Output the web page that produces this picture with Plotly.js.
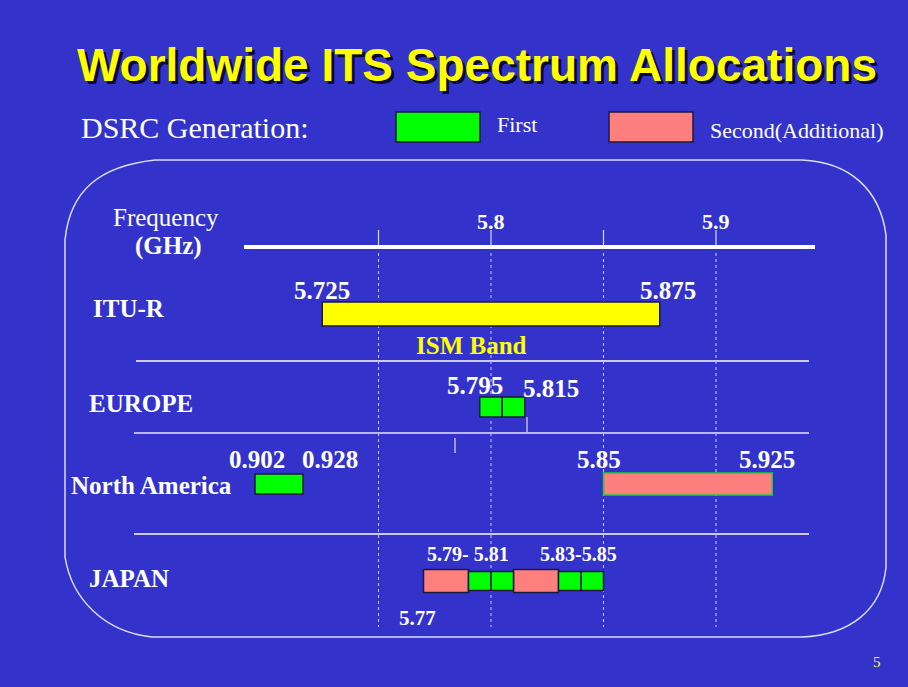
<!DOCTYPE html>
<html>
<head>
<meta charset="utf-8">
<script src="https://cdn.plot.ly/plotly-3.0.1.min.js"></script>
<style>html,body{margin:0;padding:0;background:#3333cc;}#chart{width:908px;height:687px;}</style>
</head>
<body>
<div id="chart"></div>
<script>
// ---------------- DATA ----------------
const regions = ['ITU-R', 'EUROPE', 'North America', 'JAPAN'];

// ISM band (ITU-R)
const ismRegion = ['ITU-R'];
const ismStart = [5.725];
const ismEnd = [5.875];

// First generation DSRC (GHz, 5.8 GHz band)
const firstRegion = ['EUROPE', 'EUROPE', 'JAPAN', 'JAPAN', 'JAPAN', 'JAPAN'];
const firstStart = [5.795, 5.805, 5.79, 5.80, 5.83, 5.84];
const firstEnd   = [5.805, 5.815, 5.80, 5.81, 5.84, 5.85];

// Second (additional) generation DSRC
const secondRegion = ['North America', 'JAPAN', 'JAPAN'];
const secondStart = [5.85, 5.77, 5.81];
const secondEnd   = [5.925, 5.79, 5.83];

// North America 900 MHz band (first generation)
const naLowRegion = ['North America'];
const naLowStart = [0.902];
const naLowEnd = [0.928];

// Frequency axis ticks (GHz)
const axisTickLabels = ['5.8', '5.9'];
const axisTickVals = [5.8, 5.9];
const gridVals = [5.75, 5.8, 5.85, 5.9];

// Value labels
const labelText = ['5.725', '5.875', '5.795', '5.815', '5.85', '5.925', '5.79- 5.81', '5.83-5.85', '5.77'];
const labelVal  = [5.725, 5.875, 5.795, 5.815, 5.85, 5.925, 5.80, 5.84, 5.77];
const labelRow  = ['ITU-R', 'ITU-R', 'EUROPE', 'EUROPE', 'North America', 'North America', 'JAPAN', 'JAPAN', 'JAPAN'];
const naLowLabelText = ['0.902', '0.928'];
const naLowLabelVal = [0.902, 0.928];

// ---------------- LAYOUT CONFIG ----------------
const W = 908, H = 687;
const rowY = {'ITU-R': 314, 'EUROPE': 407, 'North America': 484, 'JAPAN': 581};
// GHz scale: pixel = 491 + (f-5.8)*2250
const ghzRange = [5.8 - 491 / 2250, 5.8 + (W - 491) / 2250];
// 900 MHz scale
const lowPxPerGHz = 48 / 0.026;
const lowRange = [0.900, 0.930];
const lowDomain = [(255 + (lowRange[0] - 0.902) * lowPxPerGHz) / W, (255 + (lowRange[1] - 0.902) * lowPxPerGHz) / W];

const SERIF = 'Liberation Serif, Times New Roman, serif';
const SANS = 'Liberation Sans, Arial, sans-serif';
const GREEN = '#00ff00', PINK = '#ff7f7f', YELLOW = '#ffff00', EDGE = '#1a1a40';

function thick(region, kind) {
  if (kind === 'ism') return 24;
  if (kind === 'first') return region === 'JAPAN' ? 19 : 20;
  if (kind === 'second') return region === 'JAPAN' ? 23 : 22;
  return 20;
}

function barTrace(reg, st, en, color, kind, xaxis, lineColors) {
  return {
    type: 'bar', orientation: 'h',
    y: reg.map(r => rowY[r]),
    base: st,
    x: st.map((s, i) => en[i] - s),
    width: reg.map(r => thick(r, kind)),
    xaxis: xaxis, yaxis: 'y',
    marker: {color: color, line: {color: lineColors || EDGE, width: 1.5}},
    hoverinfo: 'skip', showlegend: false
  };
}

const traces = [
  barTrace(ismRegion, ismStart, ismEnd, YELLOW, 'ism', 'x'),
  barTrace(secondRegion, secondStart, secondEnd, PINK, 'second', 'x',
           secondRegion.map(r => r === 'North America' ? '#22cc33' : EDGE)),
  barTrace(firstRegion, firstStart, firstEnd, GREEN, 'first', 'x'),
  barTrace(naLowRegion, naLowStart, naLowEnd, GREEN, 'first', 'x2')
];

// ---------------- SHAPES ----------------
const shapes = [];
function pxLine(x0, y0, x1, y1, color, width, dash) {
  shapes.push({type: 'line', xref: 'x3', yref: 'y', x0: x0, y0: y0, x1: x1, y1: y1,
               line: {color: color, width: width, dash: dash || 'solid'}, layer: 'below'});
}
// rounded frame
shapes.push({type: 'path', xref: 'x3', yref: 'y', layer: 'below',
  path: 'M 155,160 L 802,160 C 850,162 880,190 886,235 L 886,567 C 882,610 850,635 802,637 ' +
        'L 152,637 C 105,632 72,600 65,557 L 65,240 C 70,190 100,166 155,160 Z',
  line: {color: '#dcdcff', width: 1.5}, fillcolor: 'rgba(0,0,0,0)'});
// separators
pxLine(136, 361, 809, 361, '#ffffff', 1.5);
pxLine(134, 433, 809, 433, '#b8b8f0', 2);
pxLine(134, 534, 809, 534, '#ffffff', 1.5);
// dotted grid on GHz scale
gridVals.forEach(v => shapes.push({type: 'line', xref: 'x', yref: 'y', x0: v, x1: v, y0: 253, y1: 627,
  line: {color: '#c8c8ff', width: 1, dash: 'dot'}, layer: 'below'}));
// frequency axis line
pxLine(244, 247, 815, 247, '#ffffff', 4);
// axis tick marks
gridVals.forEach(v => shapes.push({type: 'line', xref: 'x', yref: 'y', x0: v, x1: v, y0: 230, y1: 246,
  line: {color: '#d8d8ff', width: 1.2}, layer: 'below'}));
// stray small marks
pxLine(527, 417, 527, 432, '#ffffff', 1);
pxLine(455, 438, 455, 453, '#ffffff', 1);
// legend swatches
shapes.push({type: 'rect', xref: 'x3', yref: 'y', x0: 396, x1: 480, y0: 112, y1: 142,
  fillcolor: GREEN, line: {color: EDGE, width: 1.5}});
shapes.push({type: 'rect', xref: 'x3', yref: 'y', x0: 609, x1: 693, y0: 112, y1: 142,
  fillcolor: PINK, line: {color: EDGE, width: 1.5}});

// ---------------- ANNOTATIONS ----------------
const ann = [];
function txt(text, x, y, opts) {
  opts = opts || {};
  const font = {family: opts.family || SERIF, size: opts.size || 24, color: opts.color || '#ffffff'};
  if (opts.shadow) font.shadow = opts.shadow;
  ann.push({text: text, x: x, y: y, xref: opts.xref || 'x3', yref: 'y',
    xanchor: opts.xanchor || 'center', yanchor: 'middle', showarrow: false,
    xshift: opts.xshift || 0, font: font});
}
// title with shadow
txt('<b>Worldwide ITS Spectrum Allocations</b>', 477, 65,
    {family: SANS, size: 46, color: YELLOW, shadow: '3px 3px 0px #0a0a30'});
// legend text
txt('DSRC Generation:', 79, 127, {size: 30, xanchor: 'left'});
txt('First', 495, 124.6, {size: 22, xanchor: 'left'});
txt('Second(Additional)', 708, 130.6, {size: 22, xanchor: 'left'});
// axis title
txt('Frequency', 166, 217, {size: 25});
txt('<b>(GHz)</b>', 168, 246, {size: 25});
// tick labels
axisTickLabels.forEach((t, i) => txt('<b>' + t + '</b>', axisTickVals[i], 221.6, {xref: 'x', size: 22}));
// region labels
const regionLabelX = {'ITU-R': 91, 'EUROPE': 87, 'North America': 69, 'JAPAN': 87};
const regionLabelY = {'ITU-R': 308, 'EUROPE': 403, 'North America': 485, 'JAPAN': 578};
regions.forEach(r => txt('<b>' + r + '</b>', regionLabelX[r], regionLabelY[r], {size: 25, xanchor: 'left'}));
txt('<b>ISM Band</b>', 471, 345.6, {size: 25, color: YELLOW});
// value labels
const labelStyle = {
  '5.725': {dy: -23.4, size: 25, xshift: 0},
  '5.875': {dy: -23.4, size: 25, xshift: 8},
  '5.795': {dy: -21.4, size: 25, xshift: -5},
  '5.815': {dy: -18.4, size: 25, xshift: 26},
  '5.85': {dy: -24.4, size: 25, xshift: -5},
  '5.925': {dy: -24.4, size: 25, xshift: -5},
  '5.79- 5.81': {dy: -26.7, size: 20, xshift: -23},
  '5.83-5.85': {dy: -26.7, size: 20, xshift: -3},
  '5.77': {dy: 37, size: 21, xshift: -6}
};
labelText.forEach((t, i) => {
  const s = labelStyle[t];
  txt('<b>' + t + '</b>', labelVal[i], rowY[labelRow[i]] + s.dy, {xref: 'x', size: s.size, xshift: s.xshift});
});
naLowLabelText.forEach((t, i) => {
  txt('<b>' + t + '</b>', naLowLabelVal[i], 459.6, {xref: 'x2', size: 25, xshift: i === 0 ? 2 : 27});
});
// page number
txt('5', 877, 662, {size: 15, color: '#ffff33'});

const layout = {
  width: W, height: H,
  margin: {l: 0, r: 0, t: 0, b: 0, pad: 0},
  paper_bgcolor: '#3333cc', plot_bgcolor: 'rgba(0,0,0,0)',
  barmode: 'overlay',
  xaxis: {range: ghzRange, domain: [0, 1], visible: false, fixedrange: true},
  xaxis2: {range: lowRange, domain: lowDomain, anchor: 'y', visible: false, fixedrange: true},
  xaxis3: {range: [0, W], domain: [0, 1], anchor: 'y', overlaying: 'x', visible: false, fixedrange: true},
  yaxis: {range: [H, 0], domain: [0, 1], visible: false, fixedrange: true},
  shapes: shapes,
  annotations: ann,
  showlegend: false
};

Plotly.newPlot('chart', traces, layout, {staticPlot: true, displayModeBar: false});
</script>
</body>
</html>
